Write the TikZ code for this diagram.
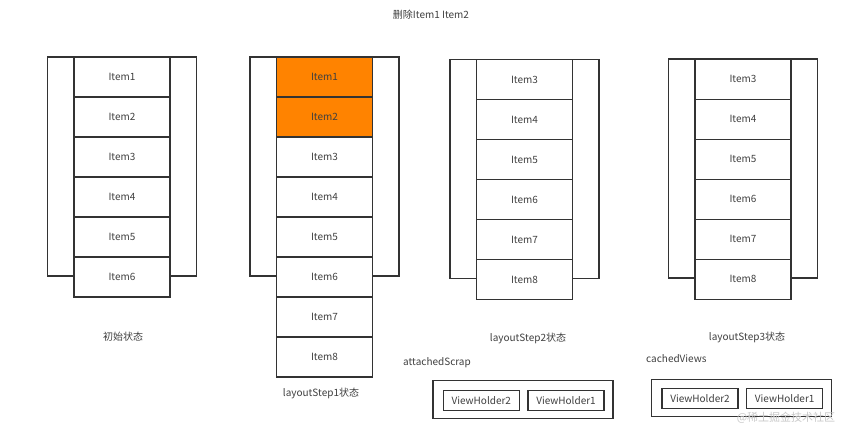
\documentclass[tikz,border=0pt]{standalone}
\usepackage{fontspec}
\setmainfont{Noto Sans CJK SC}
\definecolor{ln}{HTML}{333333}
\definecolor{txt}{HTML}{404040}
\definecolor{orng}{RGB}{255,131,0}
\definecolor{wm}{HTML}{C8C8C8}
\begin{document}
\begin{tikzpicture}[x=1pt,y=-1pt,
  frame/.style={draw=ln, line width=1.2pt, fill=white, minimum width=149pt, minimum height=219pt, inner sep=0pt, outer sep=0pt},
  item/.style={draw=ln, line width=1.2pt, fill=white, minimum width=96pt, minimum height=40pt, inner sep=0pt, font=\fontsize{10}{12}\selectfont, text=txt},
  hl/.style={item, fill=orng},
  lbl/.style={font=\fontsize{10}{12}\selectfont, text=txt, inner sep=0pt},
  box/.style={draw=ln, line width=1.2pt, minimum width=180pt, minimum height=37.5pt, inner sep=0pt},
  vh/.style={draw=ln, line width=1.2pt, minimum width=76pt, minimum height=20pt, inner sep=0pt, font=\fontsize{10}{12}\selectfont, text=txt}]
\useasboundingbox (0,0) rectangle (862,442);
\fill[white] (0,0) rectangle (862,442);

\node[lbl] (title) at (431,15) {删除Item1 Item2};

% group 1
\node[frame] (f1) at (122,166.5) {};
\foreach \i in {1,...,6} \node[item] (a\i) at (122,{77+40*(\i-1)}) {Item\i};
\node[lbl] (l1) at (123,337) {初始状态};

% group 2
\node[frame] (f2) at (324.5,166.5) {};
\foreach \i in {1,...,8} {
  \ifnum\i<3
    \node[hl] (b\i) at (324.5,{77+40*(\i-1)}) {Item\i};
  \else
    \node[item] (b\i) at (324.5,{77+40*(\i-1)}) {Item\i};
  \fi
}
\node[lbl] (l2) at (321,393) {layoutStep1状态};

% group 3
\node[frame] (f3) at (524.5,169) {};
\foreach \i in {3,...,8} \node[item] (c\i) at (524.5,{79.5+40*(\i-3)}) {Item\i};
\node[lbl] (l3) at (528,338) {layoutStep2状态};

% group 4
\node[frame] (f4) at (743,168.5) {};
\foreach \i in {3,...,8} \node[item] (d\i) at (743,{79.3+40*(\i-3)}) {Item\i};
\node[lbl] (l4) at (747,337) {layoutStep3状态};

% attachedScrap
\node[lbl, anchor=west] (as) at (403,363) {attachedScrap};
\node[box] (asbox) at (523,399.5) {};
\node[vh] (as2) at (481.3,400.3) {ViewHolder2};
\node[vh] (as1) at (566,400.3) {ViewHolder1};

% cachedViews
\node[lbl, anchor=west] (cv) at (646,359) {cachedViews};
\node[box] (cvbox) at (741.7,398) {};
\node[vh] (cv2) at (700,398.3) {ViewHolder2};
\node[vh] (cv1) at (784.7,398.3) {ViewHolder1};

% watermark
\node[font=\fontsize{11}{13}\selectfont, text=wm, inner sep=0pt] (wmk) at (786,418) {@稀土掘金技术社区};
\end{tikzpicture}
\end{document}
